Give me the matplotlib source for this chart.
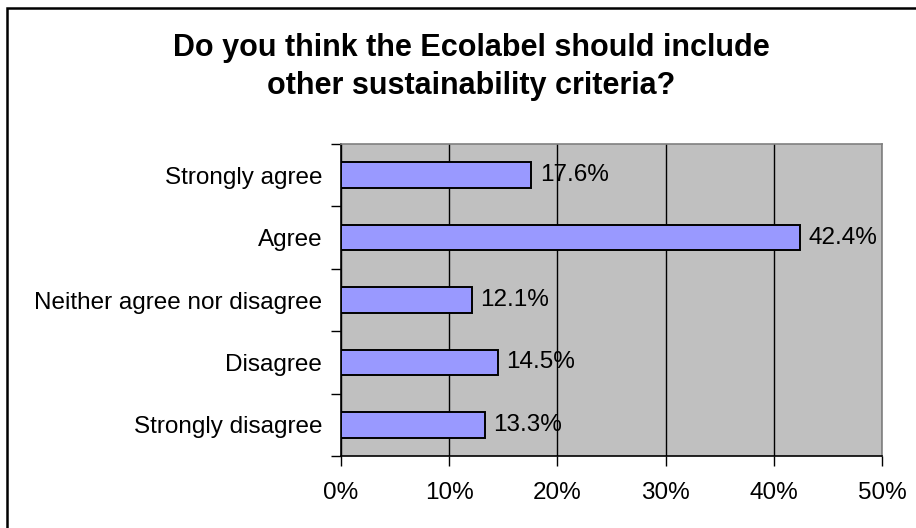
import matplotlib
matplotlib.use("Agg")
import matplotlib.pyplot as plt
from matplotlib.patches import Rectangle

# survey answers, listed top to bottom
answers = ["Strongly agree", "Agree", "Neither agree nor disagree",
           "Disagree", "Strongly disagree"]
shares = [17.6, 42.4, 12.1, 14.5, 13.3]
xticks = [0, 10, 20, 30, 40, 50]
xlabels = ["0%", "10%", "20%", "30%", "40%", "50%"]

plt.rcParams["font.family"] = ["Liberation Sans", "DejaVu Sans"]

def main():
    W, H = 916, 528
    fig = plt.figure(figsize=(W / 100, H / 100), dpi=100)
    ax = fig.add_axes([341 / W, 1 - 456 / H, (882 - 341) / W, (456 - 144) / H])

    n = len(answers)
    ypos = [n - 1 - i for i in range(n)]
    ax.set_facecolor("#C0C0C0")
    ax.barh(ypos, shares, height=0.41, color="#9999FF",
            edgecolor="black", linewidth=1.4, zorder=3)
    for y, v in zip(ypos, shares):
        ax.text(v + 0.8, y, f"{v:.1f}%", va="center", ha="left",
                fontsize=17.5, zorder=4)

    ax.set_xlim(0, 50)
    ax.set_ylim(-0.5, n - 0.5)
    ax.set_xticks(xticks)
    ax.set_xticklabels(xlabels, fontsize=17.5)
    ax.xaxis.grid(True, color="black", linewidth=1.0, zorder=1)
    ax.set_axisbelow(True)

    # boundary ticks between categories, labels in the middle
    ax.set_yticks([i - 0.5 for i in range(n + 1)])
    ax.set_yticklabels([])
    ax.set_yticks(ypos, minor=True)
    ax.set_yticklabels(answers, minor=True, fontsize=17.5)
    ax.tick_params(axis="y", which="minor", length=0, pad=13.5)
    ax.tick_params(axis="y", which="major", length=7, width=1.0, direction="out")
    ax.tick_params(axis="x", length=7, width=1.0, direction="out", pad=12)

    for s in ("left", "bottom"):
        ax.spines[s].set_color("black")
        ax.spines[s].set_linewidth(1.2)
    for s in ("top", "right"):
        ax.spines[s].set_color("#808080")
        ax.spines[s].set_linewidth(1.2)

    fig.text(471 / W, 1 - 56 / H, "Do you think the Ecolabel should include",
             ha="center", va="baseline", fontsize=22, fontweight="bold")
    fig.text(471 / W, 1 - 94 / H, "other sustainability criteria?",
             ha="center", va="baseline", fontsize=22, fontweight="bold")

    # chart frame, open on the right and bottom edges
    fig.patches.append(Rectangle((6.5 / W, -0.1), 1.2, 1 - 8.3 / H + 0.1,
                                 transform=fig.transFigure, fill=False,
                                 edgecolor="black", linewidth=1.8))

    fig.savefig("out.png", dpi=100)

if __name__ == "__main__":
    main()
